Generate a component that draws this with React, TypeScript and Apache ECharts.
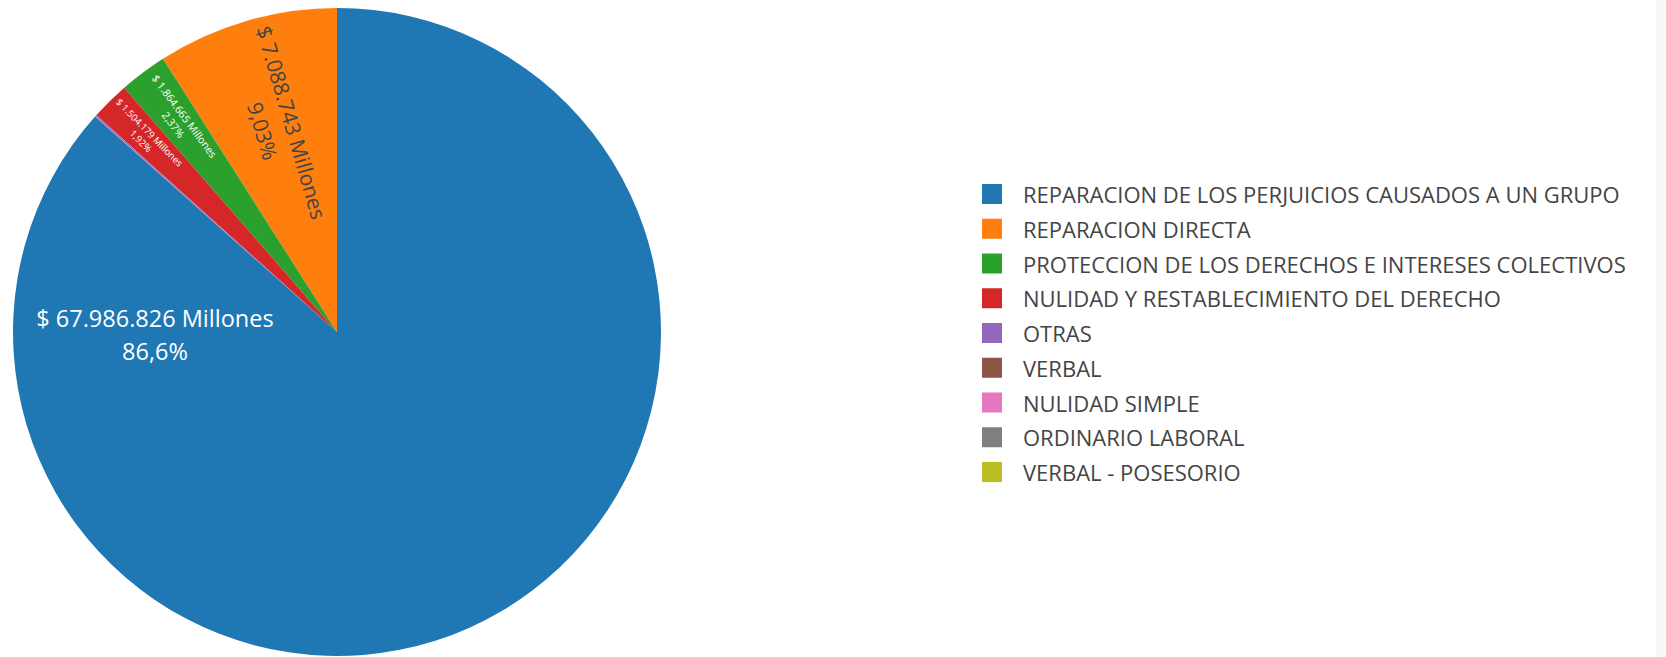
import React, { useEffect, useRef } from "react";
import * as echarts from "echarts";

const categories = [
  "REPARACION DE LOS PERJUICIOS CAUSADOS A UN GRUPO",
  "REPARACION DIRECTA",
  "PROTECCION DE LOS DERECHOS E INTERESES COLECTIVOS",
  "NULIDAD Y RESTABLECIMIENTO DEL DERECHO",
  "OTRAS",
  "VERBAL",
  "NULIDAD SIMPLE",
  "ORDINARIO LABORAL",
  "VERBAL - POSESORIO",
];

// values in millions of pesos
const values = [67986826, 7088743, 1864665, 1504179, 55000, 14000, 7000, 3000, 1000];

const colors = [
  "#1f77b4",
  "#ff7f0e",
  "#2ca02c",
  "#d62728",
  "#9467bd",
  "#8c564b",
  "#e377c2",
  "#7f7f7f",
  "#bcbd22",
];

// layout constants (pixels / fractions), not data
const FONT = "Open Sans";
const CX = 337;
const CY = 332;
const R = 324;
const labelRadiusFrac = [0.562, 0.66, 0.815, 0.845];
const labelAngleOverride: (number | null)[] = [90.9, null, null, null];
const labelFont = [23.5, 21, 10.5, 9.5];
const labelLH = [33, 30, 14, 12];
const labelColor = ["#ffffff", "#444444", "#ffffff", "#ffffff"];

function fmtThousands(n: number): string {
  return String(n).replace(/\B(?=(\d{3})+(?!\d))/g, ".");
}

export default function App() {
  const ref = useRef<HTMLDivElement>(null);

  useEffect(() => {
    if (!ref.current) return;
    const chart = echarts.init(ref.current, null, { renderer: "svg" });
    const total = values.reduce((a, b) => a + b, 0);
    const rest = total - values[0];
    const startAngle = 90 + (360 * rest) / total;

    const cum: number[] = [];
    let acc = 0;
    values.forEach((v) => {
      cum.push(acc);
      acc += v;
    });

    const data = categories.map((name, i) => {
      const shown = i < labelFont.length;
      return {
        name,
        value: values[i],
        itemStyle: { color: colors[i], borderWidth: 0 },
        label: shown
          ? {
              show: true,
              position: "inside",
              rotate: i === 0 ? 0 : "radial",
              fontSize: labelFont[i],
              lineHeight: labelLH[i],
              color: labelColor[i],
              fontFamily: FONT,
              align: "center",
              verticalAlign: "middle",
            }
          : { show: false },
      };
    });

    chart.setOption({
      animation: false,
      backgroundColor: "#ffffff",
      graphic: [
        {
          type: "rect",
          shape: { x: 1656, y: 0, width: 10, height: 657 },
          style: { fill: "#f8f8f8" },
          silent: true,
          z: -10,
        },
      ],
      legend: {
        orient: "vertical",
        left: 982,
        top: 183,
        padding: 0,
        itemWidth: 20,
        itemHeight: 20,
        itemGap: 12.75,
        icon: "rect",
        data: categories,
        selectedMode: false,
        textStyle: {
          fontFamily: FONT,
          fontSize: 22,
          lineHeight: 20,
          color: "#444444",
          padding: [0, 0, 0, 16],
        },
      },
      series: [
        {
          type: "pie",
          center: [CX, CY],
          radius: R,
          clockwise: false,
          startAngle,
          avoidLabelOverlap: false,
          minShowLabelAngle: 0,
          silent: true,
          labelLine: { show: false },
          emphasis: { disabled: true },
          label: {
            formatter: (p: any) => {
              const pct = ((100 * p.value) / total).toPrecision(3).replace(".", ",");
              return `$ ${fmtThousands(p.value)} Millones\n${pct}%`;
            },
          },
          labelLayout: (p: any) => {
            const i = p.dataIndex;
            if (i >= labelRadiusFrac.length) return {};
            const mid = (360 * (rest + cum[i] + values[i] / 2)) / total;
            const a = labelAngleOverride[i] != null ? (labelAngleOverride[i] as number) : mid;
            const rad = (a * Math.PI) / 180;
            const f = labelRadiusFrac[i];
            return {
              x: CX - R * f * Math.sin(rad),
              y: CY - R * f * Math.cos(rad),
            };
          },
          data,
        },
      ],
    });
    return () => chart.dispose();
  }, []);

  return (
    <div
      ref={ref}
      style={{ position: "fixed", left: 0, top: 0, width: "1666px", height: "657px" }}
    />
  );
}
